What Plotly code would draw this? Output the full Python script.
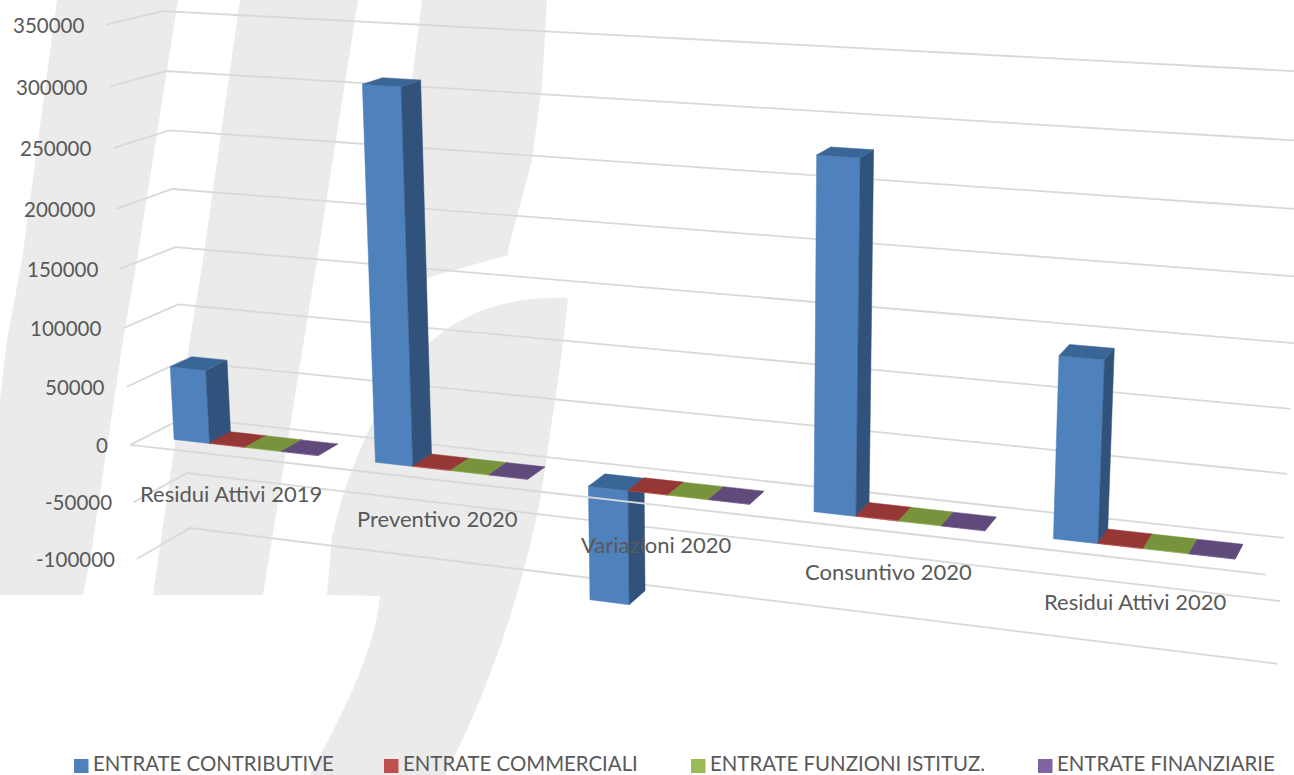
import numpy as np
import plotly.graph_objects as go

# ---- data -------------------------------------------------------------
categories = ["Residui Attivi 2019", "Preventivo 2020", "Variazioni 2020", "Consuntivo 2020", "Residui Attivi 2020"]
contributive = [63000, 310000, -95000, 278000, 141000]
commerciali = [500, 500, 400, 500, 500]
funzioni = [400, 400, 300, 400, 400]
finanziarie = [300, 300, 300, 300, 300]
series_names = ["ENTRATE CONTRIBUTIVE", "ENTRATE COMMERCIALI", "ENTRATE FUNZIONI ISTITUZ.", "ENTRATE FINANZIARIE"]
tick_values = [350000, 300000, 250000, 200000, 150000, 100000, 50000, 0, -50000, -100000]

# ---- view: perspective of the 3-D chart box, calibrated on its wall corners ----
view_u = [0]*8 + [0]*6 + [5]*6 + [5]
view_v = [0]*8 + [1]*6 + [1]*6 + [0]
view_z = [350000, 300000, 250000, 200000, 50000, 0, -50000, -100000,
          350000, 300000, 250000, 200000, -50000, -100000,
          350000, 150000, 100000, 0, -50000, -100000, 0]
view_px = [106, 109, 113, 116, 127, 131, 133, 137,
           163, 167, 169, 172, 187, 190,
           1308, 1294, 1291, 1284, 1280, 1277, 1266]
view_py = [24.7, 87, 148, 209, 387, 445, 502, 559,
           11, 71, 130, 189, 473, 528,
           71.4, 344, 409, 538, 602, 663, 574]

def solve_view():
    rows = []
    for u, v, z, px, py in zip(view_u, view_v, view_z, view_px, view_py):
        w = [u, v, z/1e5, 1]
        rows.append(w + [0]*4 + [-px*c for c in w])
        rows.append([0]*4 + w + [-py*c for c in w])
    return np.linalg.svd(np.array(rows, float))[2][-1].reshape(3, 4)

VIEW = solve_view()

def proj(u, v, z):
    p = VIEW @ np.array([u, v, z/1e5, 1.0])
    return float(p[0]/p[2]), float(p[1]/p[2])

GRID = "#D9D9D9"
TXT = "#595959"
FONT = "Lato"

fig = go.Figure()

# ---- gridlines ----
gx, gy = [], []
for z in tick_values:
    for pt in (proj(0, 0, z), proj(0, 1, z), proj(5, 1, z)):
        gx.append(pt[0]); gy.append(pt[1])
    gx.append(None); gy.append(None)
fig.add_trace(go.Scatter(x=gx, y=gy, mode="lines", line=dict(color=GRID, width=1.8), hoverinfo="skip"))

# ---- bars ----
BAR_START, BAR_W, V0, V1 = 0.14, 0.18, 0.30, 0.70
faces = {
    "front": ["#4F81BD", "#C0504D", "#9BBB59", "#8064A2"],
    "side": ["#31537B", "#7E3432", "#657B3A", "#54416B"],
    "top": ["#3A6697", "#953735", "#77933C", "#604A7B"],
}

def face(points, color, name):
    xs = [p[0] for p in points] + [points[0][0]]
    ys = [p[1] for p in points] + [points[0][1]]
    fig.add_trace(go.Scatter(x=xs, y=ys, mode="lines", fill="toself", fillcolor=color,
                             line=dict(color=color, width=0.5), name=name, hoverinfo="name"))

all_series = [contributive, commerciali, funzioni, finanziarie]
for c in range(len(categories)):
    for s, vals in enumerate(all_series):
        val = vals[c]
        a = c + BAR_START + s*BAR_W
        b = a + BAR_W
        hi, lo = max(val, 0), min(val, 0)
        label = f"{series_names[s]} - {categories[c]}: {val}"
        face([proj(a, V0, lo), proj(b, V0, lo), proj(b, V0, hi), proj(a, V0, hi)], faces["front"][s], label)
        face([proj(b, V0, lo), proj(b, V1, lo), proj(b, V1, hi), proj(b, V0, hi)], faces["side"][s], label)
        face([proj(a, V0, hi), proj(b, V0, hi), proj(b, V1, hi), proj(a, V1, hi)], faces["top"][s], label)

# front edge of the zero plane passes in front of the negative bar
f0, f1 = proj(0, 0, 0), proj(5, 0, 0)
fig.add_trace(go.Scatter(x=[f0[0], f1[0]], y=[f0[1], f1[1]], mode="lines",
                         line=dict(color=GRID, width=1.8), hoverinfo="skip"))

annotations = []
# value labels
for z in tick_values:
    px, py = proj(0, 0, z)
    annotations.append(dict(x=px, y=py, xref="x", yref="y", text=str(z), showarrow=False, xanchor="right",
                            yanchor="middle", xshift=-20, yshift=0, font=dict(family=FONT, size=20.5, color=TXT)))
# category labels
for c, name in enumerate(categories):
    px, py = proj(c + 0.5, 0, -32000)
    annotations.append(dict(x=px, y=py, xref="x", yref="y", text=name, showarrow=False, xanchor="center",
                            yanchor="middle", font=dict(family=FONT, size=22, color=TXT)))

# legend row
legend_left = [74, 384, 691, 1038]
shapes = []
for name, left, col in zip(series_names, legend_left, faces["front"]):
    shapes.append(dict(type="rect", xref="x", yref="y", x0=left, x1=left+14.5, y0=759, y1=773,
                       fillcolor=col, line=dict(width=0), layer="above"))
    annotations.append(dict(x=left+16.5, y=763, xref="x", yref="y", text=name, showarrow=False, xanchor="left",
                            yanchor="middle", font=dict(family=FONT, size=20.4, color=TXT)))

# watermark behind the chart
WM = "#EBEBEB"
def wm(d):
    shapes.append(dict(type="path", path=d, xref="x", yref="y", fillcolor=WM, line=dict(width=0), layer="below"))

def poly(pts):
    return "M " + " L ".join(f"{x},{y}" for x, y in pts) + " Z"

wm(poly([(57,0),(178,0),(137,260),(123,340),(90,560),(83,595),(0,595),(0,400),(7,340),(22,260)]))
wm(poly([(240,0),(358,0),(317,260),(304,340),(263,595),(153,595),(190,340),(203,260)]))
wm(poly([(422,0),(547,0),(542,85),(532,160),(508,250),(508,255),(430,277),(385,292),(395,200),(412,80)]))
wm("M 568,298 C 500,296 445,315 400,375 C 385,395 350,460 335,525 L 332,537 L 327,595 L 380,596 "
   "C 375,650 345,710 310,775 L 445,775 C 490,690 530,570 545,470 C 553,410 563,353 568,298 Z")

fig.update_layout(
    width=1294, height=775, margin=dict(l=0, r=0, t=0, b=0), showlegend=False,
    paper_bgcolor="white", plot_bgcolor="rgba(0,0,0,0)",
    xaxis=dict(range=[0, 1294], visible=False, fixedrange=True),
    yaxis=dict(range=[775, 0], visible=False, fixedrange=True),
    annotations=annotations, shapes=shapes,
)
fig.write_html("out.html", config=dict(displayModeBar=False),
               post_script="document.body.style.margin='0';document.documentElement.style.overflow='hidden';")
